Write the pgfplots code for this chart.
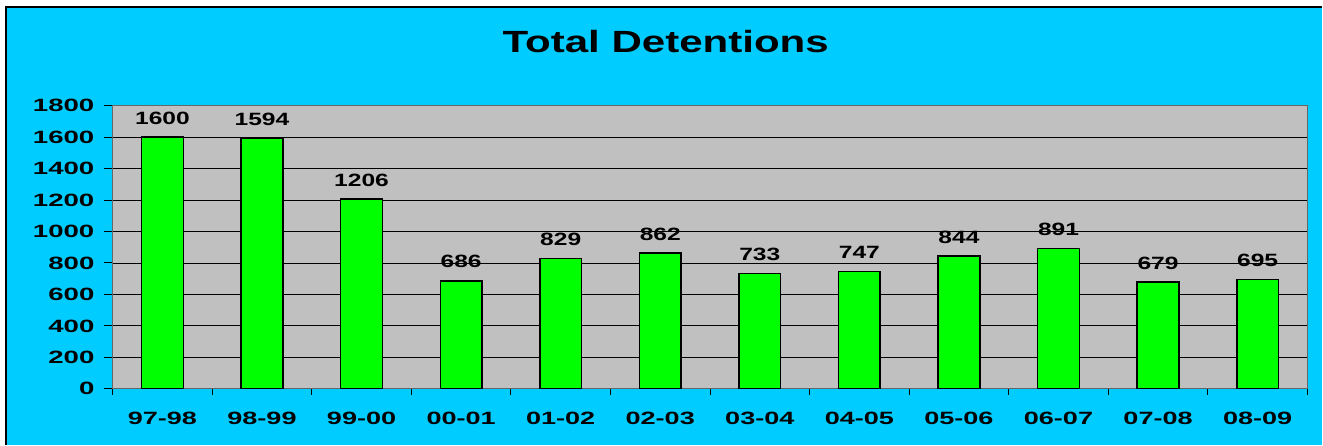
\documentclass[border=0pt]{standalone}
\usepackage{pgfplots}
\pgfplotsset{compat=1.18}
\usepackage{fontspec}
\setmainfont{Liberation Sans}
\definecolor{bgc}{HTML}{00CCFF}
\definecolor{plotc}{HTML}{C0C0C0}
\definecolor{barc}{HTML}{00FF00}
\begin{document}
\begin{tikzpicture}[x=1pt,y=1pt]
\fill[white] (0,0) rectangle (1323,445);
\fill[bgc] (6,0) rectangle (1323,438);
\draw[black,line width=1.2pt] (6,0) -- (6,438) -- (1323,438);
\node[anchor=base,font=\fontsize{30.7}{36}\selectfont\bfseries,xscale=1.37] at (666,392.3) {Total Detentions};
\begin{axis}[
  at={(112.7pt,56pt)}, anchor=south west,
  scale only axis, width=1195.3pt, height=283.3pt,
  xmin=-0.5, xmax=11.5, ymin=0, ymax=1800,
  axis background/.style={fill=plotc},
  axis line style={draw=gray!80!black, line width=1pt},
  ytick={0,200,...,1800},
  ymajorgrids, grid style={black, line width=0.9pt},
  xtick={0,...,11},
  xticklabels={97-98,98-99,99-00,00-01,01-02,02-03,03-04,04-05,05-06,06-07,07-08,08-09},
  minor xtick={-0.5,0.5,...,11.5},
  major x tick style={draw=none},
  tick align=outside,
  major tick length=8.7pt, minor tick length=6pt,
  tick style={black, line width=1pt},
  xtick pos=bottom, ytick pos=left,
  yticklabel style={font=\fontsize{17.8}{20}\selectfont\bfseries, xscale=1.55, anchor=east, inner sep=0pt, xshift=-6pt},
  xticklabel style={font=\fontsize{17.8}{20}\selectfont\bfseries, xscale=1.52, anchor=base, inner sep=0pt, yshift=-27pt},
  /pgf/number format/assume math mode=true,
  /pgf/number format/1000 sep={},
  nodes near coords,
  every node near coord/.append style={font=\fontsize{17.8}{20}\selectfont\bfseries, xscale=1.38, anchor=base, yshift=13pt, inner sep=0pt},
]
\addplot[ybar, bar width=41.7pt, fill=barc, draw=black, line width=1.5pt] coordinates {
(0,1600) (1,1594) (2,1206) (3,686) (4,829) (5,862) (6,733) (7,747) (8,844) (9,891) (10,679) (11,695)};
\end{axis}
\end{tikzpicture}
\end{document}
